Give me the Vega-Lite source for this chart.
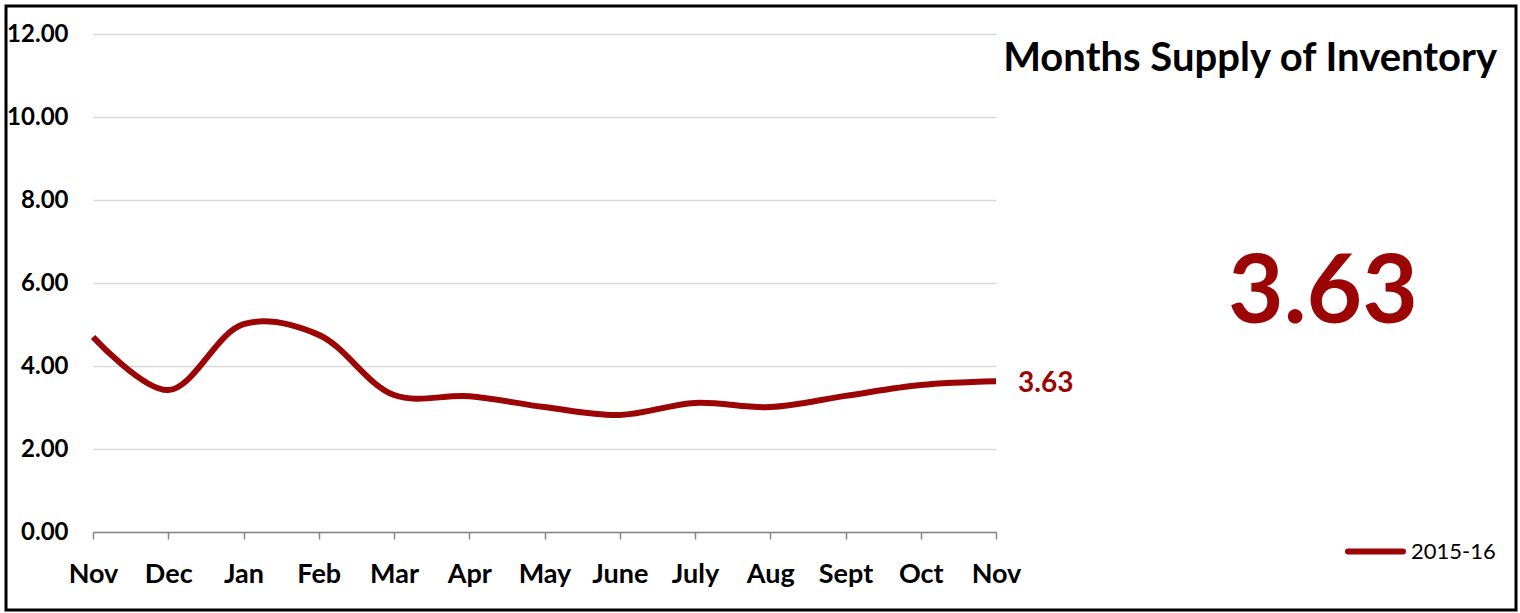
{
  "$schema": "https://vega.github.io/schema/vega-lite/v6.json",
  "autosize": "none",
  "padding": {"left": 6, "top": 6, "right": 4, "bottom": 3},
  "width": 1510,
  "height": 604,
  "background": "white",
  "config": {
    "view": {"stroke": "black", "strokeWidth": 3},
    "font": "Lato"
  },
  "title": {
    "text": "Months Supply of Inventory",
    "anchor": "end",
    "offset": -73,
    "dx": -19,
    "fontSize": 40,
    "font": "Lato",
    "fontWeight": "bold",
    "color": "black"
  },
  "data": {
    "values": [
      {"period": "Nov 2015", "value": 4.70, "series": "2015-16"},
      {"period": "Dec 2015", "value": 3.42, "series": "2015-16"},
      {"period": "Jan 2016", "value": 5.01, "series": "2015-16"},
      {"period": "Feb 2016", "value": 4.75, "series": "2015-16"},
      {"period": "Mar 2016", "value": 3.30, "series": "2015-16"},
      {"period": "Apr 2016", "value": 3.27, "series": "2015-16"},
      {"period": "May 2016", "value": 3.01, "series": "2015-16"},
      {"period": "June 2016", "value": 2.82, "series": "2015-16"},
      {"period": "July 2016", "value": 3.11, "series": "2015-16"},
      {"period": "Aug 2016", "value": 3.01, "series": "2015-16"},
      {"period": "Sept 2016", "value": 3.28, "series": "2015-16"},
      {"period": "Oct 2016", "value": 3.54, "series": "2015-16"},
      {"period": "Nov 2016", "value": 3.63, "series": "2015-16"}
    ]
  },
  "encoding": {
    "x": {
      "field": "period",
      "type": "ordinal",
      "sort": null,
      "scale": {"type": "point", "range": [87, 990], "padding": 0},
      "axis": {
        "title": null,
        "orient": "bottom",
        "offset": -78,
        "labelExpr": "split(datum.label, ' ')[0]",
        "labelAngle": 0,
        "labelFont": "Lato",
        "labelFontSize": 27,
        "labelFontWeight": "bold",
        "labelColor": "black",
        "labelPadding": 22,
        "domainColor": "#868686",
        "domainWidth": 1.5,
        "tickColor": "#868686",
        "tickWidth": 1.5,
        "tickSize": 7,
        "grid": false
      }
    },
    "y": {
      "field": "value",
      "type": "quantitative",
      "scale": {"domain": [0, 12], "range": [526, 28], "nice": false, "zero": true},
      "axis": {
        "title": null,
        "offset": -87,
        "domain": false,
        "ticks": false,
        "values": [0, 2, 4, 6, 8, 10, 12],
        "format": ".2f",
        "labelPadding": 25,
        "labelFont": "Lato",
        "labelFontSize": 24,
        "labelFontWeight": "bold",
        "labelColor": "black",
        "gridColor": "#d9d9d9",
        "gridWidth": 1.5
      }
    }
  },
  "layer": [
    {
      "mark": {"type": "line", "interpolate": "catmull-rom", "strokeWidth": 6, "strokeCap": "butt"},
      "encoding": {
        "color": {
          "field": "series",
          "type": "nominal",
          "scale": {"range": ["#9b0505"]},
          "legend": {
            "title": null,
            "orient": "none",
            "legendX": 1339,
            "legendY": 515,
            "padding": 0,
            "symbolType": "stroke",
            "symbolSize": 3025,
            "symbolStrokeWidth": 6,
            "labelFont": "Lato",
            "labelFontSize": 22,
            "labelColor": "black",
            "labelOffset": 5,
            "encode": {"symbols": {"update": {"strokeCap": {"value": "round"}}}}
          }
        }
      }
    },
    {
      "transform": [{"filter": "datum.period === 'Nov 2016'"}],
      "mark": {"type": "text", "align": "left", "baseline": "middle", "dx": 22, "dy": 3, "fontSize": 28, "fontWeight": "bold", "font": "Lato", "color": "#9b0505"},
      "encoding": {"text": {"field": "value", "type": "quantitative", "format": ".2f"}}
    },
    {
      "transform": [{"filter": "datum.period === 'Nov 2016'"}],
      "mark": {"type": "text", "align": "center", "baseline": "middle", "dx": 327, "dy": -87, "fontSize": 96, "fontWeight": "bold", "font": "Lato", "color": "#9b0505"},
      "encoding": {"text": {"field": "value", "type": "quantitative", "format": ".2f"}}
    }
  ]
}
